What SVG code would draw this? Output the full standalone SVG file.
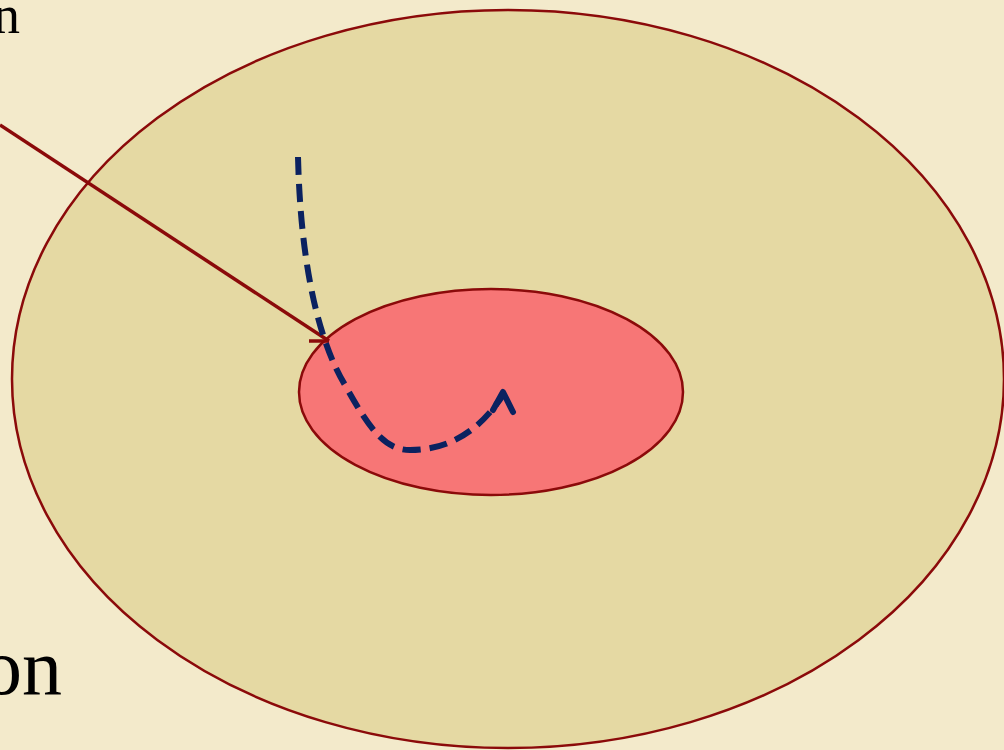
<svg xmlns="http://www.w3.org/2000/svg" width="1004" height="750" viewBox="0 0 1004 750">
<defs>
<style>
.lbl{font-family:"Liberation Serif","DejaVu Serif",serif;fill:#000;}
.ell{stroke:#8b0a0a;stroke-width:2.5;}
</style>
</defs>
<rect width="1004" height="750" fill="#f3eacb"/>
<g id="outer"><ellipse class="ell" cx="508" cy="379" rx="496" ry="369" fill="#e5d9a3"/></g>
<g id="inner"><ellipse class="ell" cx="491" cy="392" rx="192" ry="103" fill="#f77676"/></g>
<g id="labels">
<text class="lbl" x="20" y="33" font-size="54" text-anchor="end">n</text>
<text class="lbl" x="62" y="694" font-size="80" text-anchor="end">on</text>
</g>
<g id="connectors">
<line x1="0" y1="125" x2="329" y2="341" stroke="#8b0a0a" stroke-width="3.5"/>
<path d="M309,341 L329,341" stroke="#8b0a0a" stroke-width="3.5"/>
<path d="M298,157 C300,240 312,330 345,385 C370,430 385,450 410,450 C450,450 480,430 503,395" fill="none" stroke="#0b2260" stroke-width="6" stroke-dasharray="18,9"/>
<path d="M493,410 L503,392 L513,412" fill="none" stroke="#0b2260" stroke-width="6" stroke-linecap="round" stroke-linejoin="round"/>
</g>
</svg>
